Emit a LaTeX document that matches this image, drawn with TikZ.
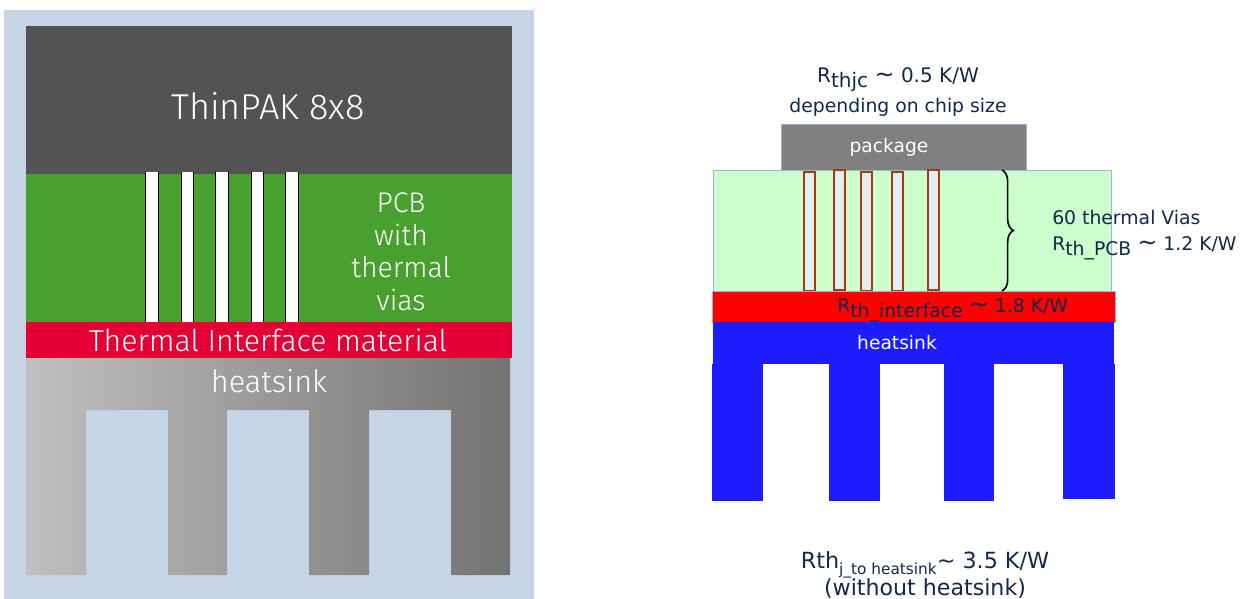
\documentclass[tikz,border=0pt]{standalone}
\usepackage{fontspec}
\setmainfont{DejaVu Sans}
\newfontfamily\infofont{Fira Sans Light}
\usetikzlibrary{decorations.pathreplacing}
\definecolor{panelbg}{HTML}{C5D5E6}
\definecolor{pakdark}{HTML}{535353}
\definecolor{pcbgreen}{HTML}{48A02F}
\definecolor{timred}{HTML}{E40034}
\definecolor{lightgreen}{HTML}{CCFFCC}
\definecolor{sinkblue}{HTML}{1C1CFF}
\definecolor{viabrown}{HTML}{A83A10}
\definecolor{viafill}{HTML}{E6EDF5}
\definecolor{outline}{HTML}{9DB4D6}
\definecolor{inktext}{HTML}{12284C}
\newcommand{\subtxt}[1]{\raisebox{-0.45ex}{#1}}
\newcommand{\bigtilde}{{\fontsize{18}{18}\selectfont\textasciitilde}}

\begin{document}
\begin{tikzpicture}[
  x=0.75pt, y=-0.75pt,
  every node/.style={align=center, inner sep=0pt},
  %% --- left picture ---
  infolabel/.style={font=\infofont\fontsize{#1}{24.4}\selectfont, text=white},
  %% --- right picture ---
  block/.style={draw=outline, line width=0.5pt},
  viabox/.style={draw=viabrown, fill=viafill, line width=0.9pt},
  note/.style={font=\fontsize{#1}{#1}\selectfont, text=inktext},
  sinklabel/.style={font=\fontsize{14}{16}\selectfont, text=white}
]
  \useasboundingbox (0,0) rectangle (1247,599);

  %% ================================================================
  %%  ThinPAK stack (left)
  %% ================================================================
  \fill[panelbg] (4,10) rectangle (534,599);
  \fill[pakdark] (26,26) rectangle (512,174);
  \fill[pcbgreen] (26,174) rectangle (512,322);
  % vias: white with black side walls only
  \foreach \xa/\xb in {145/158, 181/193, 215/228, 251/263, 285/298} {
    \fill[white] (\xa,172) rectangle (\xb,322);
    \draw[black, line width=0.6pt] (\xa,172) -- (\xa,322) (\xb,172) -- (\xb,322);
  }
  \fill[timred] (26,322) rectangle (512,358);
  % heatsink comb as one outline, so the shading runs across all fins
  \shade[left color=black!25, right color=black!55]
    (26,358) -- (510,358) -- (510,575) -- (451,575) -- (451,410) -- (369,410)
    -- (369,575) -- (309,575) -- (309,410) -- (227,410) -- (227,575)
    -- (168,575) -- (168,410) -- (86,410) -- (86,575) -- (26,575) -- cycle;

  \node[infolabel=27] (thinpak) at (268,106) {ThinPAK 8x8};
  \node[infolabel=21.3] (pcb) at (401,252) {PCB\\with\\thermal\\vias};
  \node[infolabel=22.7] (tim) at (268,340) {Thermal Interface material};
  \node[infolabel=23] (sink) at (269,381) {heatsink};

  %% ================================================================
  %%  Thermal resistance stack (right)
  %% ================================================================
  \fill[black!50, block] (781,124) rectangle (1026,170);
  \fill[lightgreen, block] (713,170) rectangle (1111,291);
  % vias
  \foreach \xa/\ya/\yb in {804/172/291, 834/170/290, 861/172/291, 892/172/291, 928/170/290}
    \draw[viabox] (\xa,\ya) rectangle +(11,\yb-\ya);
  \fill[red, block] (712,291) rectangle (1115,322);
  \fill[sinkblue] (713,322) rectangle (1114,364);
  \foreach \xa/\xb/\yb in {712/763/501, 829/880/501, 944/994/501, 1063/1115/499}
    \fill[sinkblue] (\xa,364) rectangle (\xb,\yb);

  \coordinate (bracetop) at (1002,170);
  \coordinate (bracebot) at (1002,291);
  \draw[line width=1.2pt, decorate, decoration={brace, amplitude=8.5pt}]
    (bracetop) -- (bracebot);

  \node[note=15] (rjc) at (898,80) {R\subtxt{thjc} \bigtilde{} 0.5 K/W};
  \node[note=14.1] (chip) at (898,107) {depending on chip size};
  \node[font=\fontsize{14}{16}\selectfont, text=white] (pack) at (889,147) {package};
  \node[note=14.1, anchor=west] (vias) at (1052,217) {60 thermal Vias};
  \node[note=14.1, anchor=west] (rpcb) at (1052,248) {R\subtxt{th\_PCB} \bigtilde{} 1.2 K/W};
  \node[note=14.1, anchor=west] (rtim) at (837,310) {R\subtxt{th\_interface} \bigtilde{} 1.8 K/W};
  \node[sinklabel] (sinkb) at (897,343) {heatsink};
  \node[note=16.7] (rsum) at (925,565) {Rth\subtxt{\fontsize{11.5}{11.5}\selectfont j\_to heatsink}\textasciitilde{} 3.5 K/W};
  \node[note=16.6] (nosink) at (925,589) {(without heatsink)};

\end{tikzpicture}
\end{document}
